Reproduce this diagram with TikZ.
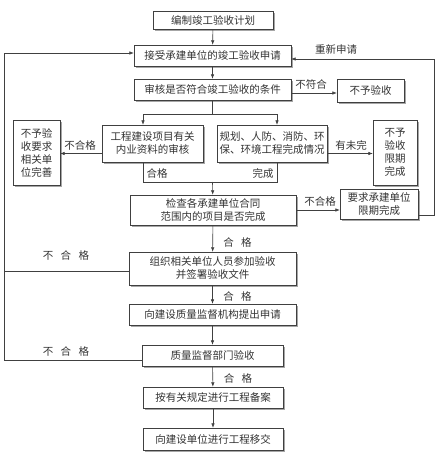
\documentclass[tikz,border=0pt]{standalone}
\usepackage{fontspec}
\setmainfont{Noto Sans CJK SC}
\usetikzlibrary{arrows.meta,shadows}
\newcommand\gap{\hspace{.7em}}
\begin{document}
\begin{tikzpicture}[x=1pt, y=-1pt,
    font=\fontsize{10.5}{13}\selectfont,
    box/.style={draw=black!75, fill=white, text=black!80, inner sep=1pt, align=center,
      drop shadow={shadow xshift=1.6pt, shadow yshift=-1.6pt, fill=black!35, opacity=1}},
    line/.style={draw=black!75, line width=0.6pt},
    arr/.style={line, -{Latex[length=4.5pt,width=3.5pt]}},
    lab/.style={text=black!80, inner sep=0pt}]
    \useasboundingbox (0,0) rectangle (440,460);

    % --- Main column ---
    \node[box, minimum width=120pt, minimum height=18pt] (plan) at (213, 20) {编制竣工验收计划};
    \node[box, minimum width=157pt, minimum height=21pt] (accept) at (212.5, 55.5) {接受承建单位的竣工验收申请};
    \node[box, minimum width=157pt, minimum height=21pt] (review) at (212.5, 89.5) {审核是否符合竣工验收的条件};
    \node[box, minimum width=67pt, minimum height=23pt] (refuse) at (370.5, 90.5) {不予验收};

    % --- Two checks side by side ---
    \node[box, minimum width=101pt, minimum height=37pt] (docs) at (152.5, 143.5) {工程建设项目有关\\内业资料的审核};
    \node[box, minimum width=110pt, minimum height=37pt] (works) at (272, 143.5) {规划、人防、消防、环\\保、环境工程完成情况};
    \node[box, minimum width=47pt, minimum height=65pt] (improve) at (36.5, 152.5) {不予验\\收要求\\相关单\\位完善};
    \node[box, minimum width=44pt, minimum height=65pt] (deadline) at (395, 152.5) {不予\\验收\\限期\\完成};

    % --- Contract check ---
    \node[box, minimum width=166pt, minimum height=30pt] (contract) at (213, 210) {检查各承建单位合同\\范围内的项目是否完成};
    \node[box, minimum width=78pt, minimum height=30pt] (demand) at (379, 204) {要求承建单位\\限期完成};

    % --- Lower column ---
    \node[box, minimum width=167pt, minimum height=33pt] (organize) at (212.5, 268.5) {组织相关单位人员参加验收\\并签署验收文件};
    \node[box, minimum width=167pt, minimum height=21pt] (apply) at (212.5, 314.5) {向建设质量监督机构提出申请};
    \node[box, minimum width=141pt, minimum height=21pt] (inspect) at (212.5, 355.5) {质量监督部门验收};
    \node[box, minimum width=140pt, minimum height=21pt] (record) at (213, 397.5) {按有关规定进行工程备案};
    \node[box, minimum width=140pt, minimum height=22pt] (handover) at (213, 439) {向建设单位进行工程移交};

    % --- Corner points ---
    \coordinate (splitL) at (143, 114);
    \coordinate (splitR) at (277, 114);
    \coordinate (joinL) at (143, 182);
    \coordinate (joinR) at (277, 182);
    \coordinate (join) at (212.5, 182);
    \coordinate (backR) at (434, 215);
    \coordinate (backL) at (4, 53);

    % --- Connectors ---
    \draw[arr] (plan) -- (accept);
    \draw[arr] (accept) -- (review);
    \draw[arr] ([yshift=-3.5pt]review.east) -- ([yshift=-3.5pt]review.east -| refuse.west);
    \draw[arr] (review.south) |- (splitL) -- (splitL |- docs.north);
    \draw[arr] (review.south) |- (splitR) -- (splitR |- works.north);
    \draw[arr] ([yshift=-10pt]docs.west) -- ([yshift=-10pt]docs.west -| improve.east);
    \draw[arr] ([yshift=-10pt]works.east) -- ([yshift=-10pt]works.east -| deadline.west);
    \draw[line] (joinL |- docs.south) -- (joinL) -- (joinR) -- (joinR |- works.south);
    \draw[arr] (join) -- (contract);
    \draw[arr] (contract.east) -- (contract.east -| demand.west);
    \draw[arr] (backR -| demand.east) -- (backR) |- ([yshift=-3.5pt]accept.east);
    \draw[arr] (contract) -- (organize);
    \draw[arr] (organize) -- (apply);
    \draw[arr] (apply) -- (inspect);
    \draw[arr] (inspect) -- (record);
    \draw[arr] (record) -- (handover);
    \draw[line] ([yshift=-3pt]organize.west) -| (backL);
    \draw[line] ([yshift=-4.5pt]inspect.west) -| (backL);
    \draw[arr] (backL) -- (backL -| accept.west);

    % --- Labels ---
    \node[lab] (l1) at (311, 84) {不符合};
    \node[lab] (l2) at (336, 49) {重新申请};
    \node[lab] (l3) at (80, 145) {不合格};
    \node[lab] (l4) at (351, 145) {有未完};
    \node[lab] (l5) at (157, 173) {合格};
    \node[lab] (l6) at (263, 173) {完成};
    \node[lab] (l7) at (320, 201) {不合格};
    \node[lab] (l8) at (237.5, 242) {合\gap 格};
    \node[lab] (l9) at (66, 255) {不\gap 合\gap 格};
    \node[lab] (l10) at (237.5, 296) {合\gap 格};
    \node[lab] (l11) at (66, 351) {不\gap 合\gap 格};
    \node[lab] (l12) at (238, 378) {合\gap 格};
\end{tikzpicture}
\end{document}
